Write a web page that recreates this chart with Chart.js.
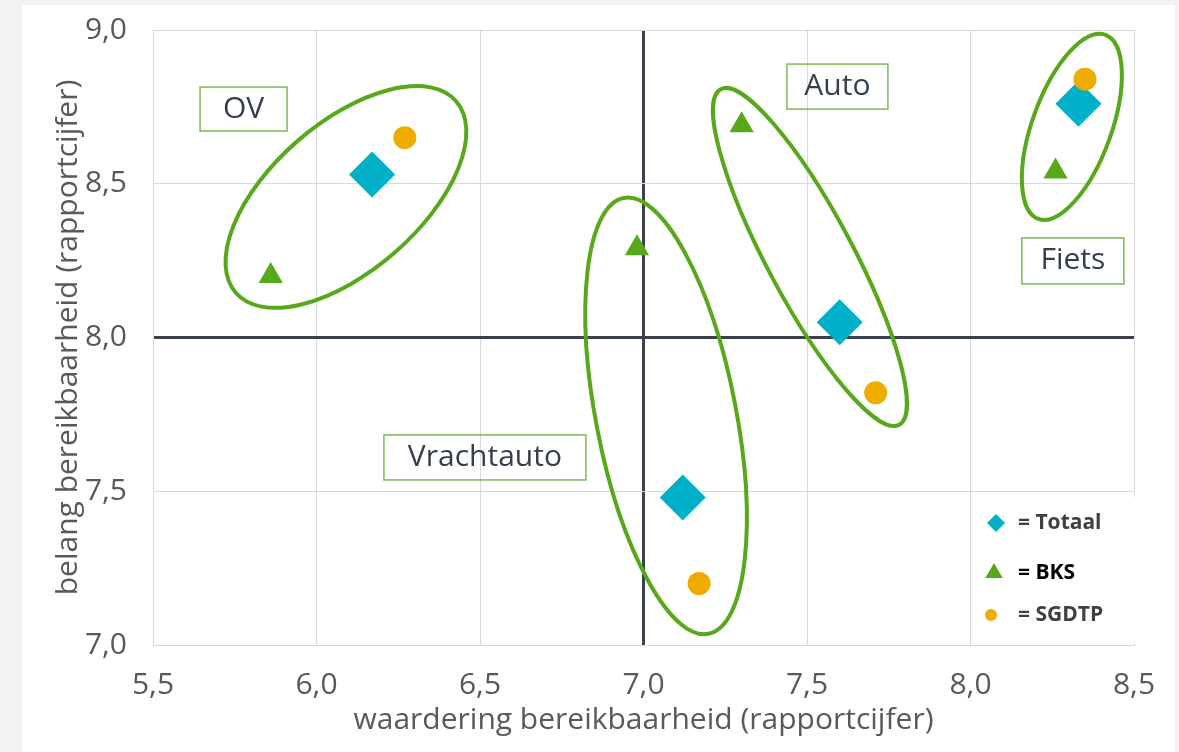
<!DOCTYPE html>
<html>
<head>
<meta charset="utf-8">
<script src="https://cdn.jsdelivr.net/npm/chart.js@4.4.1/dist/chart.umd.min.js"></script>
<style>
  html, body { margin: 0; padding: 0; background: #f2f2f2; }
  #card { position: absolute; left: 22px; top: 5px; width: 1153px; height: 747px; background: #fff; }
  #wrap { position: absolute; left: 0; top: 0; width: 1179px; height: 752px; }
</style>
</head>
<body>
<div id="card"></div>
<div id="wrap"><canvas id="chart" width="1179" height="752"></canvas></div>
<script>
// groups: OV, Vrachtauto, Auto, Fiets
const groups = ['OV', 'Vrachtauto', 'Auto', 'Fiets'];
const totaalX = [6.17, 7.12, 7.60, 8.33];
const totaalY = [8.53, 7.48, 8.05, 8.76];
const bksX = [5.86, 6.98, 7.30, 8.26];
const bksY = [8.20, 8.29, 8.69, 8.54];
const sgdtpX = [6.27, 7.17, 7.71, 8.35];
const sgdtpY = [8.65, 7.20, 7.82, 8.84];
const xTicks = [5.5, 6.0, 6.5, 7.0, 7.5, 8.0, 8.5];
const yTicks = [7.0, 7.5, 8.0, 8.5, 9.0];

const GREEN = '#58a81c';
const BLUE = '#00afc8';
const ORANGE = '#f0ab00';

// ellipses round each group (centre in data units, radii in px)
const ellipses = [
  { x: 6.09, y: 8.457, rx: 146, ry: 74, angle: -41 },
  { x: 7.069, y: 7.745, rx: 222, ry: 70, angle: 79 },
  { x: 7.509, y: 8.262, rx: 190, ry: 43, angle: 62 },
  { x: 8.31, y: 8.685, rx: 98, ry: 39.5, angle: -70 }
];
// label boxes, same order as groups
const labelBoxes = [
  { x: 5.777, y: 8.743, w: 87, h: 44 },
  { x: 6.515, y: 7.610, w: 202, h: 45 },
  { x: 7.593, y: 8.816, w: 101, h: 45 },
  { x: 8.313, y: 8.249, w: 102, h: 46 }
];

const toPoints = (xs, ys) => xs.map((x, i) => ({ x: x, y: ys[i] }));
const fmt = v => v.toFixed(1).replace('.', ',');

const groupPlugin = {
  id: 'groups',
  beforeDatasetsDraw(chart) {
    const { ctx, scales: { x, y } } = chart;
    ctx.save();
    ctx.strokeStyle = GREEN;
    ctx.lineWidth = 4;
    ellipses.forEach(e => {
      ctx.beginPath();
      ctx.ellipse(x.getPixelForValue(e.x), y.getPixelForValue(e.y), e.rx, e.ry, e.angle * Math.PI / 180, 0, Math.PI * 2);
      ctx.stroke();
    });
    ctx.lineWidth = 1.5;
    ctx.strokeStyle = '#7cba52';
    ctx.fillStyle = '#333f4f';
    ctx.font = "30px 'Open Sans'";
    ctx.textAlign = 'center';
    ctx.textBaseline = 'middle';
    labelBoxes.forEach((b, i) => {
      const cx = x.getPixelForValue(b.x), cy = y.getPixelForValue(b.y);
      ctx.strokeRect(cx - b.w / 2, cy - b.h / 2, b.w, b.h);
      ctx.fillText(groups[i], cx, cy);
    });
    ctx.restore();
  }
};

const legendPlugin = {
  id: 'cornerLegend',
  afterDatasetsDraw(chart) {
    const { ctx, chartArea: a } = chart;
    ctx.save();
    ctx.fillStyle = '#fff';
    ctx.fillRect(a.right - 158, a.bottom - 148, 166, 146);
    const items = [
      { text: '= Totaal', color: '#404040', dy: -122, mx: -138, draw: (px, py) => {
        ctx.beginPath(); ctx.moveTo(px - 9, py); ctx.lineTo(px, py - 9); ctx.lineTo(px + 9, py); ctx.lineTo(px, py + 9); ctx.closePath();
        ctx.fillStyle = BLUE; ctx.fill(); } },
      { text: '= BKS', color: '#000', dy: -72, mx: -140, draw: (px, py) => {
        ctx.beginPath(); ctx.moveTo(px, py - 10); ctx.lineTo(px + 8.7, py + 5); ctx.lineTo(px - 8.7, py + 5); ctx.closePath();
        ctx.fillStyle = GREEN; ctx.fill(); } },
      { text: '= SGDTP', color: '#404040', dy: -30, mx: -143, draw: (px, py) => {
        ctx.beginPath(); ctx.arc(px, py, 6, 0, Math.PI * 2);
        ctx.fillStyle = ORANGE; ctx.fill(); } }
    ];
    ctx.font = "bold 21px 'Open Sans'";
    ctx.textBaseline = 'middle';
    ctx.textAlign = 'left';
    items.forEach(it => {
      const py = a.bottom + it.dy;
      it.draw(a.right + it.mx, py);
      ctx.fillStyle = it.color;
      ctx.fillText(it.text, a.right - 116, py);
    });
    ctx.restore();
  }
};

Chart.defaults.font.family = "'Open Sans', sans-serif";

new Chart(document.getElementById('chart'), {
  type: 'scatter',
  data: {
    datasets: [
      { label: 'Totaal', data: toPoints(totaalX, totaalY), pointStyle: 'rectRot', pointRadius: 23,
        backgroundColor: BLUE, borderWidth: 0, order: 2 },
      { label: 'BKS', data: toPoints(bksX, bksY), pointStyle: 'triangle', pointRadius: 14,
        backgroundColor: GREEN, borderWidth: 0, order: 1 },
      { label: 'SGDTP', data: toPoints(sgdtpX, sgdtpY), pointStyle: 'circle', pointRadius: 11.5,
        backgroundColor: ORANGE, borderWidth: 0, order: 0 }
    ]
  },
  options: {
    responsive: false,
    animation: false,
    layout: { padding: { left: 0, right: 45, top: 30, bottom: 0 } },
    plugins: { legend: { display: false }, tooltip: { enabled: false } },
    scales: {
      x: {
        min: 5.5, max: 8.5,
        afterBuildTicks: s => { s.ticks = xTicks.map(v => ({ value: v })); },
        afterFit: s => { s.height = 107; s.paddingLeft = 0; s.paddingRight = 0; },
        grid: {
          drawTicks: false,
          color: c => c.tick && c.tick.value === 7 ? '#3a414c' : '#d9d9d9',
          lineWidth: c => c.tick && c.tick.value === 7 ? 3 : 1
        },
        border: { color: '#d9d9d9' },
        ticks: { padding: 22, color: '#595959', font: { size: 30 }, callback: v => fmt(v) },
        title: { display: true, text: 'waardering bereikbaarheid (rapportcijfer)', color: '#595959',
          font: { size: 30 }, padding: { top: 0, bottom: 14 } }
      },
      y: {
        min: 7.0, max: 9.0,
        afterBuildTicks: s => { s.ticks = yTicks.map(v => ({ value: v })); },
        afterFit: s => { s.width = 153; s.paddingTop = 0; s.paddingBottom = 0; },
        grid: {
          drawTicks: false,
          color: c => c.tick && c.tick.value === 8 ? '#3a414c' : '#d9d9d9',
          lineWidth: c => c.tick && c.tick.value === 8 ? 3 : 1
        },
        border: { color: '#d9d9d9' },
        ticks: { padding: 26, color: '#595959', font: { size: 30 }, callback: v => fmt(v) },
        title: { display: true, text: 'belang bereikbaarheid (rapportcijfer)', color: '#595959',
          font: { size: 30 }, padding: { top: 50, bottom: 0 } }
      }
    }
  },
  plugins: [groupPlugin, legendPlugin]
});
</script>
</body>
</html>
